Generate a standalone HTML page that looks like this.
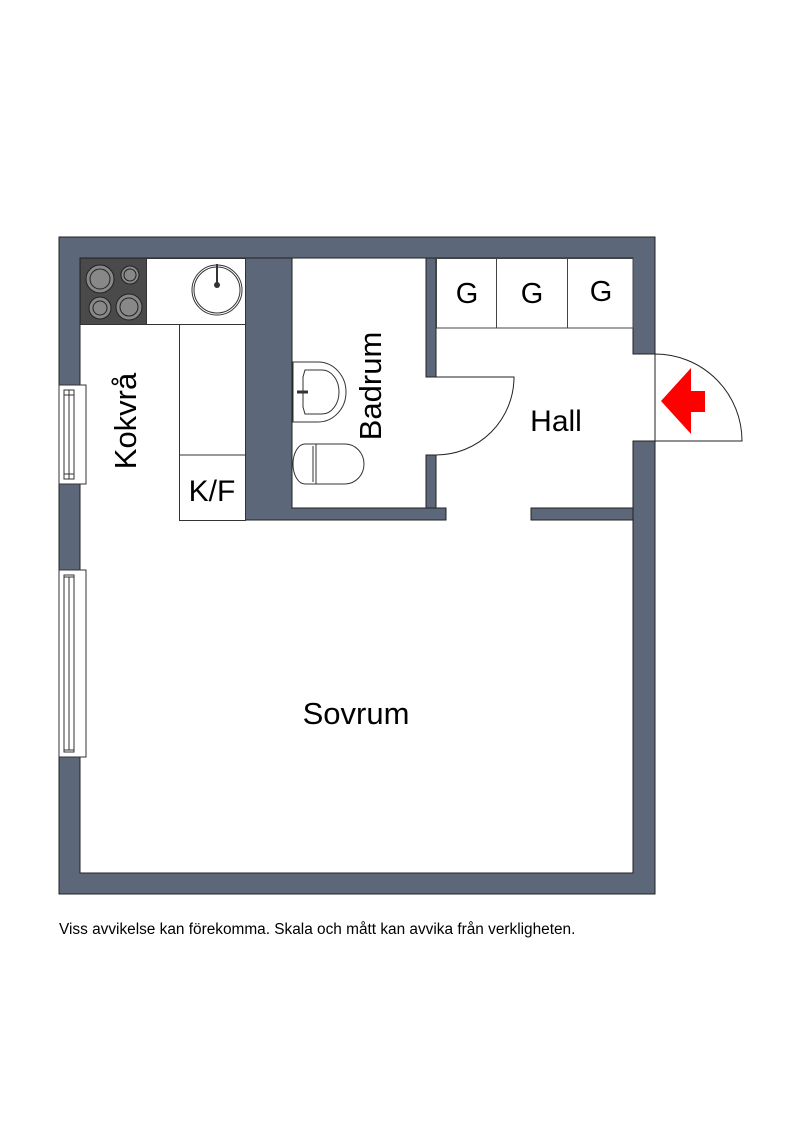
<!DOCTYPE html>
<html><head><meta charset="utf-8"><style>
html,body{margin:0;padding:0;background:#fff;}
svg{display:block;}
text{font-family:"Liberation Sans",sans-serif;fill:#000;}
</style></head><body>
<svg width="800" height="1131" viewBox="0 0 800 1131" xmlns="http://www.w3.org/2000/svg">
<g stroke="#222" stroke-width="1">
<path d="M59,237 H655 V354 H633 V258 H80 V873 H633 V441 H655 V894 H59 Z" fill="#5c6779"/>
<path d="M245,258 H292 V508 H446 V520 H245 Z" fill="#5c6779"/>
<rect x="426" y="258" width="10" height="119" fill="#5c6779"/>
<rect x="426" y="455" width="10" height="53" fill="#5c6779"/>
<rect x="531" y="508" width="102" height="12" fill="#5c6779"/>
</g>
<g fill="#fff" stroke="#333" stroke-width="1">
<rect x="59" y="385" width="27" height="99"/>
<rect x="64" y="390" width="10" height="89"/>
<line x1="69" y1="390" x2="69" y2="479"/>
<line x1="64" y1="395" x2="74" y2="395"/><line x1="64" y1="474" x2="74" y2="474"/>
<rect x="59" y="570" width="27" height="187"/>
<rect x="64" y="575" width="10" height="177"/>
<line x1="69" y1="577" x2="69" y2="750"/>
<line x1="64" y1="577" x2="74" y2="577"/><line x1="64" y1="750" x2="74" y2="750"/>
</g>
<g stroke="#333" stroke-width="1" fill="#fff">
<rect x="80.5" y="258.5" width="165" height="66"/>
<rect x="80.5" y="258.5" width="66" height="66" fill="#4a4a4a"/>
<rect x="179.5" y="324.5" width="66" height="196"/>
<line x1="179.5" y1="455" x2="245.5" y2="455"/>
</g>
<g stroke="#222" fill="#888">
<circle cx="100" cy="279" r="14"/><circle cx="100" cy="279" r="10"/>
<circle cx="130" cy="275" r="9"/><circle cx="130" cy="275" r="6"/>
<circle cx="100" cy="308" r="11"/><circle cx="100" cy="308" r="7"/>
<circle cx="129" cy="307" r="13"/><circle cx="129" cy="307" r="9"/>
</g>
<circle cx="217" cy="290" r="25" fill="#fff" stroke="#333"/>
<circle cx="217" cy="290" r="23" fill="none" stroke="#333"/>
<line x1="217" y1="264" x2="217" y2="283" stroke="#333" stroke-width="2"/>
<circle cx="217" cy="285" r="3" fill="#333"/>
<g stroke="#333" fill="#fff">
<path d="M293,362 H318 A28,30 0 0 1 318,422 H293 Z"/>
<path d="M305,370 H322 A17,22 0 0 1 322,414 H305 L303,407 V377 Z"/>
<line x1="297" y1="392" x2="308" y2="392" stroke-width="3"/>
<path d="M316,444 H345 A19,20 0 0 1 345,484 H316 Z"/>
<path d="M316,444 H305 A12,20 0 0 0 305,484 H316 Z"/>
<line x1="313" y1="446" x2="313" y2="482"/>
</g>
<g stroke="#444" fill="#fff">
<rect x="436.5" y="258.5" width="196.5" height="69.5"/>
<line x1="496.5" y1="258" x2="496.5" y2="328"/>
<line x1="567.5" y1="258" x2="567.5" y2="328"/>
</g>
<g stroke="#222" fill="none">
<path d="M436,377 H514 A78,78 0 0 1 436,455"/>
<path d="M655,441 H742 A87,87 0 0 0 655,354 V441"/>
</g>
<polygon points="661,401 691,368 691,391 705,391 705,412 691,412 691,434" fill="#ff0000"/>
<text x="467" y="303" font-size="29" text-anchor="middle">G</text>
<text x="532" y="303" font-size="29" text-anchor="middle">G</text>
<text x="601" y="301" font-size="29" text-anchor="middle">G</text>
<text x="556" y="431" font-size="30" text-anchor="middle">Hall</text>
<text x="356" y="724" font-size="31" text-anchor="middle">Sovrum</text>
<text x="212" y="501" font-size="30" text-anchor="middle">K/F</text>
<text transform="translate(136,421) rotate(-90)" font-size="31" text-anchor="middle">Kokvrå</text>
<text transform="translate(381,386) rotate(-90)" font-size="31" text-anchor="middle">Badrum</text>
<text x="59" y="934" font-size="15.4">Viss avvikelse kan förekomma. Skala och mått kan avvika från verkligheten.</text>
</svg>
</body></html>
